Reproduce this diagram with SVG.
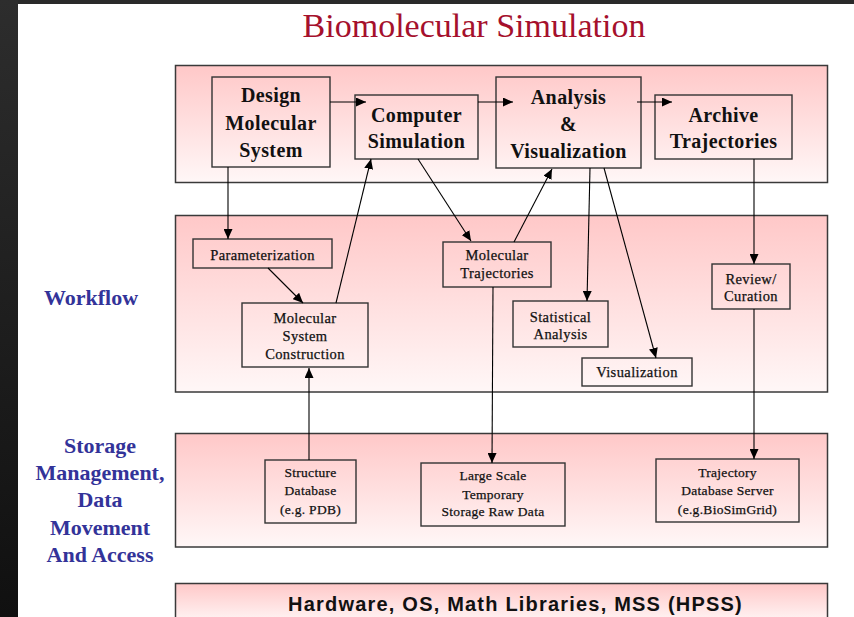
<svg xmlns="http://www.w3.org/2000/svg" width="854" height="617" viewBox="0 0 854 617">
  <defs>
    <linearGradient id="band" x1="0" y1="0" x2="0" y2="1">
      <stop offset="0" stop-color="#ffc8c8"/>
      <stop offset="1" stop-color="#fff7f7"/>
    </linearGradient>
    <linearGradient id="edge" x1="0" y1="0" x2="0" y2="1">
      <stop offset="0" stop-color="#2d2d2d"/>
      <stop offset="1" stop-color="#101010"/>
    </linearGradient>
    <marker id="arrow" markerUnits="userSpaceOnUse" markerWidth="10" markerHeight="9" refX="10" refY="4.5" orient="auto">
      <path d="M0,0 L10,4.5 L0,9 z" fill="#000"/>
    </marker>
  </defs>
  <style>
    .band { fill: url(#band); stroke: #3a3a3a; stroke-width: 1.5; }
    .node { fill: none; stroke: #333; stroke-width: 1.4; }
    .big { font-family: "Liberation Serif", "Times New Roman", serif; font-weight: bold; font-size: 20px; fill: #111; text-anchor: middle; letter-spacing: 0.4px; }
    .mid { font-family: "Liberation Serif", "Times New Roman", serif; font-size: 14.5px; fill: #111; text-anchor: middle; letter-spacing: 0.4px; stroke: #111; stroke-width: 0.25; }
    .small { font-family: "Liberation Serif", "Times New Roman", serif; font-size: 13.5px; fill: #111; text-anchor: middle; letter-spacing: 0.3px; stroke: #111; stroke-width: 0.25; }
    .side { font-family: "Liberation Serif", "Times New Roman", serif; font-weight: bold; font-size: 22px; fill: #333399; text-anchor: middle; }
    .conn { fill: none; stroke: #000; stroke-width: 1.1; marker-end: url(#arrow); }
  </style>

  <!-- page and frame edges -->
  <rect x="0" y="0" width="854" height="617" fill="#fff"/>
  <rect x="0" y="0" width="854" height="4" fill="#2a2a2a"/>
  <rect x="0" y="0" width="18" height="617" fill="url(#edge)"/>

  <!-- title -->
  <text x="474" y="37" font-family="Liberation Serif, Times New Roman, serif" font-size="34" fill="#a5102c" text-anchor="middle">Biomolecular Simulation</text>

  <!-- side labels -->
  <text class="side" x="91" y="305">Workflow</text>
  <text class="side" x="100" y="453">Storage</text>
  <text class="side" x="100" y="480">Management,</text>
  <text class="side" x="100" y="507">Data</text>
  <text class="side" x="100" y="535">Movement</text>
  <text class="side" x="100" y="562">And Access</text>

  <!-- layer bands -->
  <rect class="band" x="175.5" y="65.5" width="652" height="117"/>
  <rect class="band" x="175.5" y="215.5" width="652" height="176.5"/>
  <rect class="band" x="175.5" y="433.5" width="652" height="113.5"/>
  <rect class="band" x="175.5" y="583.5" width="652" height="40"/>
  <text x="515.5" y="611" font-family="Liberation Sans, Arial, sans-serif" font-weight="bold" font-size="20" fill="#111" text-anchor="middle" letter-spacing="1.2">Hardware, OS, Math Libraries, MSS (HPSS)</text>

  <!-- workflow top row -->
  <g id="design">
    <rect class="node" x="212" y="77" width="118" height="90"/>
    <text class="big" x="271" y="102">Design</text>
    <text class="big" x="271" y="130">Molecular</text>
    <text class="big" x="271" y="157">System</text>
  </g>
  <g id="computer-simulation">
    <rect class="node" x="355" y="95" width="123" height="64"/>
    <text class="big" x="416.5" y="122">Computer</text>
    <text class="big" x="416.5" y="148">Simulation</text>
  </g>
  <g id="analysis">
    <rect class="node" x="496" y="77" width="145" height="91"/>
    <text class="big" x="568.5" y="104">Analysis</text>
    <text class="big" x="568.5" y="131">&amp;</text>
    <text class="big" x="568.5" y="158">Visualization</text>
  </g>
  <g id="archive">
    <rect class="node" x="655" y="95" width="137" height="64"/>
    <text class="big" x="723.5" y="121.5">Archive</text>
    <text class="big" x="723.5" y="148">Trajectories</text>
  </g>

  <!-- workflow detail -->
  <g id="parameterization">
    <rect class="node" x="193" y="239" width="139" height="29"/>
    <text class="mid" x="262.5" y="259.5">Parameterization</text>
  </g>
  <g id="construction">
    <rect class="node" x="242" y="303" width="126" height="64"/>
    <text class="mid" x="305" y="323">Molecular</text>
    <text class="mid" x="305" y="341">System</text>
    <text class="mid" x="305" y="358.5">Construction</text>
  </g>
  <g id="trajectories">
    <rect class="node" x="443" y="242" width="108" height="45"/>
    <text class="mid" x="497" y="260">Molecular</text>
    <text class="mid" x="497" y="277.5">Trajectories</text>
  </g>
  <g id="statistical-analysis">
    <rect class="node" x="513" y="301" width="95" height="46"/>
    <text class="mid" x="560.5" y="321.5">Statistical</text>
    <text class="mid" x="560.5" y="338.5">Analysis</text>
  </g>
  <g id="visualization">
    <rect class="node" x="582" y="358" width="110" height="28"/>
    <text class="mid" x="637" y="377">Visualization</text>
  </g>
  <g id="review">
    <rect class="node" x="712" y="264" width="78" height="45"/>
    <text class="mid" x="751" y="284">Review/</text>
    <text class="mid" x="751" y="301">Curation</text>
  </g>

  <!-- storage -->
  <g id="structure-db">
    <rect class="node" x="265" y="460" width="91" height="63"/>
    <text class="small" x="310.5" y="477">Structure</text>
    <text class="small" x="310.5" y="495">Database</text>
    <text class="small" x="310.5" y="513.5">(e.g. PDB)</text>
  </g>
  <g id="raw-storage">
    <rect class="node" x="421" y="463" width="144" height="63"/>
    <text class="small" x="493" y="480">Large Scale</text>
    <text class="small" x="493" y="498.5">Temporary</text>
    <text class="small" x="493" y="516">Storage Raw Data</text>
  </g>
  <g id="trajectory-db">
    <rect class="node" x="656" y="459" width="143" height="63"/>
    <text class="small" x="727.5" y="477">Trajectory</text>
    <text class="small" x="727.5" y="495">Database Server</text>
    <text class="small" x="727.5" y="513.5">(e.g.BioSimGrid)</text>
  </g>

  <!-- connectors -->
  <g id="connectors">
    <path class="conn" d="M330,102 L366,102"/>
    <path class="conn" d="M478,102 L513,102"/>
    <path class="conn" d="M637,102 L672,102"/>
    <path class="conn" d="M228,167 L228,239"/>
    <path class="conn" d="M268,268 L303,303"/>
    <path class="conn" d="M336,303 L371,159"/>
    <path class="conn" d="M418,159 L471,241"/>
    <path class="conn" d="M514,242 L552,169"/>
    <path class="conn" d="M590,168 L587,301"/>
    <path class="conn" d="M604,168 L656,358"/>
    <path class="conn" d="M754,159 L754,264"/>
    <path class="conn" d="M309,460 L309,368"/>
    <path class="conn" d="M493,287 L492,463"/>
    <path class="conn" d="M754,309 L754,459"/>
  </g>
</svg>
